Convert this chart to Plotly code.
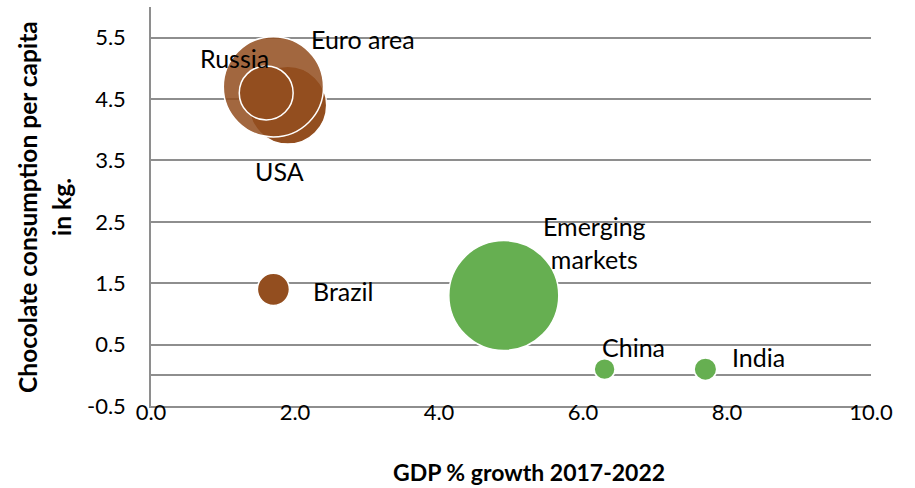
import plotly.graph_objects as go

# Chocolate consumption per capita (kg) against GDP growth 2017-2022
mature_names = ["USA", "Euro area", "Russia", "Brazil"]
mature_gdp = [1.9, 1.7, 1.6, 1.7]
mature_choc = [4.4, 4.7, 4.6, 1.4]
mature_size = [50, 83, 24, 8.5]

emerging_names = ["Emerging<br>markets", "China", "India"]
emerging_gdp = [4.9, 6.3, 7.7]
emerging_choc = [1.3, 0.1, 0.1]
emerging_size = [100, 3.6, 4.2]

x_ticks = [0, 2, 4, 6, 8, 10]
x_tick_labels = ["0.0", "2.0", "4.0", "6.0", "8.0", "10.0"]
y_ticks = [-0.5, 0.5, 1.5, 2.5, 3.5, 4.5, 5.5]
y_tick_labels = ["-0.5", "0.5", "1.5", "2.5", "3.5", "4.5", "5.5"]

BROWN = "#934E1F"
BROWN_TEXTURE = "rgba(147,78,31,0.86)"
GREEN = "#66AF51"
GRID = "#8E8E8E"
FONT = "Lato"
MAX_DIAMETER = 110

all_sizes = mature_size + emerging_size
sizeref = 2.0 * max(all_sizes) / (MAX_DIAMETER ** 2)

mature_colors = [BROWN_TEXTURE if n == "Euro area" else BROWN for n in mature_names]

fig = go.Figure()
fig.add_trace(go.Scatter(
    x=mature_gdp, y=mature_choc, mode="markers", name="Mature",
    marker=dict(size=mature_size, sizemode="area", sizeref=sizeref,
                color=mature_colors, opacity=1,
                line=dict(color="white", width=1.5)),
    hoverinfo="skip",
))
fig.add_trace(go.Scatter(
    x=emerging_gdp, y=emerging_choc, mode="markers", name="Emerging",
    marker=dict(size=emerging_size, sizemode="area", sizeref=sizeref,
                color=GREEN, opacity=1,
                line=dict(color="white", width=1.5)),
    hoverinfo="skip",
))

# data-label offsets (px) from each bubble centre
label_offsets = {
    "USA": (-8, -66),
    "Euro area": (90, 48),
    "Russia": (-32, 35),
    "Brazil": (70, -2),
    "Emerging<br>markets": (91, 53),
    "China": (29, 22),
    "India": (53, 12),
}

annotations = []
for names, xs, ys in ((mature_names, mature_gdp, mature_choc),
                      (emerging_names, emerging_gdp, emerging_choc)):
    for n, xv, yv in zip(names, xs, ys):
        dx, dy = label_offsets[n]
        annotations.append(dict(
            x=xv, y=yv, xref="x", yref="y", text=n, showarrow=False,
            xshift=dx, yshift=dy, xanchor="center", yanchor="middle",
            font=dict(family=FONT, size=25, color="black"),
        ))

annotations.append(dict(
    x=0.525, y=(406 - 472) / 399, xref="paper", yref="paper",
    text="<b>GDP % growth 2017-2022</b>", showarrow=False,
    xanchor="center", yanchor="middle", borderpad=0,
    font=dict(family=FONT, size=23, color="black"),
))
# two-line vertical axis title, one annotation per line
for line_text, px in (("Chocolate consumption per capita", 28), ("in kg.", 62)):
    annotations.append(dict(
        x=(px - 151) / 720, y=0.499, xref="paper", yref="paper",
        text="<b>" + line_text + "</b>", showarrow=False,
        textangle=-90, xanchor="center", yanchor="middle",
        font=dict(family=FONT, size=24.5, color="black"),
    ))

fig.update_layout(
    width=915, height=488,
    margin=dict(l=151, r=44, t=7, b=82),
    paper_bgcolor="white", plot_bgcolor="white",
    showlegend=False,
    annotations=annotations,
    xaxis=dict(
        range=[0, 10], tickvals=x_ticks, ticktext=x_tick_labels,
        showgrid=False, zeroline=False,
        showline=True, linecolor=GRID, linewidth=1.5,
        ticks="", ticklabelstandoff=-14,
        tickfont=dict(family=FONT, size=22, color="black"),
    ),
    yaxis=dict(
        range=[-0.5, 6.0], tickvals=y_ticks, ticktext=y_tick_labels,
        showgrid=True, gridcolor=GRID, gridwidth=1.5,
        zeroline=True, zerolinecolor=GRID, zerolinewidth=1.5,
        showline=True, linecolor=GRID, linewidth=1.5,
        ticks="", ticklabelstandoff=19,
        tickfont=dict(family=FONT, size=22, color="black"),
    ),
)

fig.write_html("out.html")
